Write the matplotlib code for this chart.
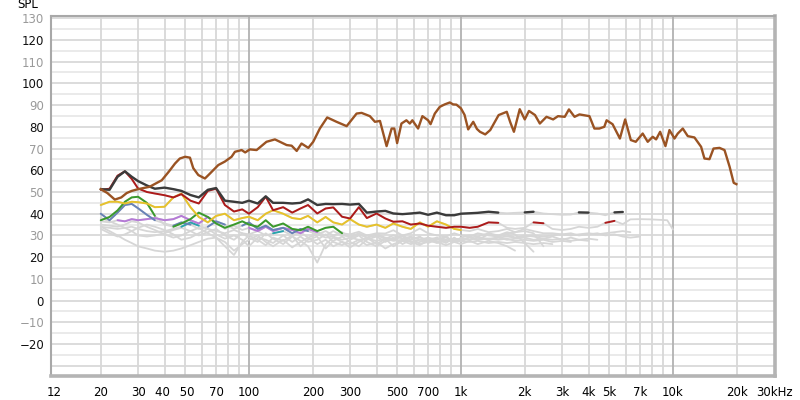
import numpy as np
import matplotlib
matplotlib.use("Agg")
import matplotlib.pyplot as plt

# ------------------------------------------------------------------
# data (REW style distortion plot)
# ------------------------------------------------------------------

# fundamental (brown) trace: frequency (Hz) / SPL (dB)
fund_freq = [20, 21.5, 23.3, 25, 26.5, 28, 30, 34, 38.8, 42, 44.8, 47.2, 50, 52.7, 54.6,
             57.7, 62, 65.5, 71.7, 77, 82.8, 85.9, 92.4, 96, 101, 108.7, 121, 132.6, 140,
             150.6, 159, 168, 177, 190.6, 201, 216, 234, 259, 289, 322, 340, 372, 393, 415,
             446, 471, 485, 500, 524, 553, 574, 590, 628, 658, 700, 719, 753, 795, 838, 886,
             919, 952, 1000, 1040, 1082, 1143, 1190, 1230, 1302, 1375, 1506, 1645, 1710, 1778,
             1894, 2000, 2094, 2236, 2356, 2533, 2722, 2870, 3088, 3232, 3435, 3624, 4037,
             4260, 4495, 4745, 4866, 5191, 5621, 5951, 6330, 6678, 7200, 7605, 8030, 8330,
             8702, 9220, 9630, 10170, 10540, 11130, 11750, 12630, 13580, 14080, 14870, 15540,
             16580, 17510, 18510, 19350, 19920]
fund_db = [51.3, 49.5, 46.5, 47.5, 49.5, 50.5, 51.3, 52.4, 55.4, 59.5, 63.1, 65.4, 66.2, 65.8, 61.0,
           57.8, 56.2, 58.5, 62.4, 64.0, 66.2, 68.5, 69.3, 68.2, 69.6, 69.3, 73.1, 74.2, 73.1,
           71.6, 71.3, 68.9, 72.3, 70.3, 73.1, 79.2, 84.3, 82.3, 80.3, 86.1, 86.4, 84.9, 82.3, 82.7,
           71.1, 79.2, 79.2, 72.5, 81.5, 83.0, 81.5, 83.0, 79.2, 84.9, 83.0, 81.2, 86.1, 89.2, 90.3, 91.2,
           90.3, 90.2, 88.5, 85.5, 78.8, 82.3, 79.0, 77.7, 76.5, 78.5, 85.4, 86.9, 82.0, 77.7,
           88.1, 83.4, 87.3, 85.4, 81.5, 84.6, 83.4, 84.9, 84.6, 88.0, 84.6, 85.7, 84.9,
           79.2, 79.2, 80.0, 83.0, 81.2, 74.6, 83.4, 73.9, 73.1, 76.9, 73.1, 75.4, 74.2,
           77.7, 71.1, 78.5, 74.6, 76.9, 79.2, 75.7, 75.1, 70.8, 65.4, 65.1, 70.0,
           70.3, 69.3, 61.6, 54.2, 53.6]

# common frequency grid for the distortion traces
harm_freq = [20, 22, 24, 26, 28, 30, 33, 36, 40, 44, 48, 53, 58, 64, 70, 77, 85, 93, 100,
             110, 120, 130, 145, 160, 175, 190, 210, 230, 250, 275, 300, 330, 360, 400, 440,
             480, 530, 580, 640, 700, 770, 850, 930, 1000, 1100, 1200, 1350, 1500, 1650, 1800,
             2000, 2200, 2450, 2700, 3000, 3300, 3600, 4000, 4400, 4800, 5300, 5800, 6300,
             7000, 7800, 8600, 9400, 10000]

thd_db = [51.3, 51.0, 57.0, 59.5, 57.0, 55.0, 53.0, 51.5, 52.0, 51.3,
          50.5, 48.6, 47.5, 51.0, 51.8, 46.0, 45.5, 45.0, 46.0, 44.7,
          48.0, 45.0, 45.0, 44.7, 45.0, 46.6, 44.0, 44.5, 44.4, 44.5,
          44.2, 44.5, 40.5, 41.0, 41.3, 40.1, 39.8, 40.1, 40.5, 39.5,
          40.5, 39.3, 39.3, 40.0, 40.2, 40.4, 40.9, 40.5, 40.2, 40.4,
          40.6, 40.9, 40.1, 39.8, 39.5, 39.6, 40.6, 40.5, 40.1, 39.3,
          40.6, 40.8]
h2_db = [51.0, 51.5, 57.5, 59.5, 56.0, 51.6, 50.0, 49.3, 48.5, 47.5,
         49.0, 46.0, 44.7, 50.5, 51.5, 44.0, 41.0, 42.0, 40.0, 43.0,
         47.8, 41.6, 43.0, 40.5, 42.4, 44.0, 40.1, 42.4, 42.9, 38.6,
         37.8, 43.0, 38.0, 40.1, 37.8, 36.3, 36.5, 35.0, 35.5, 34.5,
         34.0, 33.5, 34.0, 34.0, 33.5, 34.0, 36.0, 35.8, 33.5, 33.0,
         33.5, 36.0, 35.6, 33.0, 32.5, 33.0, 34.0, 33.5, 34.0, 35.8,
         36.7, 35.2, 37.4, 37.5, 37.4, 37.2, 37.0, 32.7]
h3_db = [44.0, 45.5, 45.5, 44.7, 45.5, 45.3, 44.7, 43.0, 43.2, 47.5,
         49.3, 43.0, 38.5, 36.0, 39.0, 40.0, 37.0, 38.0, 38.6, 37.0,
         40.0, 41.6, 40.0, 38.0, 37.5, 39.0, 36.0, 38.5, 36.0, 35.0,
         37.5, 35.0, 34.0, 35.0, 33.5, 35.5, 34.0, 33.0, 36.0, 34.0,
         36.5, 35.0, 33.0, 32.5, 32.0, 33.0, 31.5, 32.0, 33.0, 31.5,
         33.0, 32.0, 31.0, 31.0, 30.5, 31.0, 30.0, 30.5, 31.0, 30.0,
         30.5, 29.5, 29.0, 29.5]
h4_db = [37.0, 38.5, 41.5, 45.5, 47.5, 47.8, 45.0, 39.0, 35.0, 34.0,
         35.5, 37.5, 40.5, 38.5, 35.5, 33.5, 35.0, 36.5, 35.0, 34.0,
         37.0, 34.0, 35.5, 33.0, 32.4, 34.0, 32.0, 33.5, 34.0, 31.0,
         30.5, 31.7, 30.0, 31.0, 30.9, 32.4, 30.0, 31.0, 33.2, 31.0,
         30.0, 29.5, 31.0, 30.0, 29.5, 31.0, 30.0, 29.5, 30.5, 29.0,
         30.0, 29.5, 28.5, 29.5, 28.0, 29.0, 28.0, 28.5, 28.0]
h5_db = [40.0, 37.0, 40.5, 44.0, 44.5, 42.5, 39.5, 37.0, 35.5, 34.5,
         36.0, 35.0, 33.0, 34.0, 36.5, 35.0, 33.0, 34.5, 36.0, 33.0,
         34.5, 32.5, 33.5, 31.0, 33.0, 32.0, 30.5, 32.0, 30.0, 31.5,
         29.0, 30.5, 29.0, 30.0, 28.5, 30.0, 28.5, 29.5, 28.0, 29.0,
         28.0, 29.0, 27.5, 28.5, 28.0, 29.0, 28.0, 29.0, 28.0, 28.5,
         29.0, 28.0, 28.5, 28.0, 28.5, 27.5, 28.0, 27.5]
h6_db = [36.5, 36.0, 37.0, 36.5, 37.5, 37.0, 37.5, 38.0, 37.0, 37.5,
         39.0, 37.0, 35.5, 38.5, 36.0, 33.0, 34.5, 32.5, 33.5, 32.0,
         34.0, 32.0, 33.5, 32.5, 31.0, 33.0, 31.5, 30.0, 32.0, 30.0,
         29.5, 31.0, 29.0, 30.5, 29.0, 28.5, 30.0, 28.0, 29.0, 28.0,
         29.0, 27.5, 28.5, 28.0, 29.0, 28.0, 28.5, 28.0, 28.5, 27.5,
         28.0, 27.5, 28.0, 27.0, 27.5, 27.0]
h7_db = [34.0, 33.5, 33.0, 33.5, 34.0, 33.0, 32.0, 31.5, 32.0, 33.0,
         34.0, 36.0, 34.5, 33.0, 32.0, 31.0, 32.5, 31.0, 30.5, 32.0,
         30.0, 31.0, 32.0, 30.0, 31.5, 29.0, 30.5, 29.0, 29.5, 28.0,
         29.0, 28.0, 28.5, 27.5, 28.5, 27.5, 28.0, 27.0, 28.0, 27.5,
         27.0, 28.0, 27.0, 27.5, 27.0, 27.5, 26.5, 27.0, 26.5, 27.0,
         26.5, 26.0, 26.5, 26.0]

# traces that stay grey all the way
noise_db = [34.0, 32.0, 30.0, 28.0, 26.5, 25.0, 24.0, 23.0, 22.5, 23.0,
            24.0, 25.5, 27.0, 28.5, 29.0, 27.0, 23.0, 26.0, 28.0, 30.0,
            27.0, 25.0, 28.0, 24.5, 27.0, 29.0, 26.0, 28.0, 25.0, 27.0,
            26.0, 28.0, 25.5, 27.0, 24.0, 26.0, 27.5, 26.0, 27.0, 28.0,
            26.5, 27.5, 28.0, 28.5, 28.0, 29.0, 28.5, 29.0, 29.5, 29.0,
            29.5, 30.0, 29.5, 30.0, 30.5, 30.0, 30.5, 31.0, 30.5, 31.0,
            31.5, 32.0, 31.5]
h8_db = [38.0, 36.5, 35.0, 33.5, 32.0, 30.0, 29.5, 30.0, 31.0, 32.5,
         33.5, 32.0, 30.0, 31.5, 33.0, 30.0, 28.0, 31.0, 29.0, 27.0,
         31.0, 28.5, 26.0, 29.5, 27.5, 25.0, 17.5, 26.0, 29.0, 27.0,
         24.5, 27.0, 29.0, 26.0, 28.5, 25.0, 27.5, 29.0, 26.0, 27.0,
         28.5, 26.5, 29.0, 27.0, 29.5, 28.0, 30.5, 29.5, 31.0, 31.5,
         32.0, 31.0, 25.0]
h9_db = [35.0, 34.5, 34.0, 35.0, 36.5, 36.0, 34.0, 32.5, 30.5, 29.0,
         30.0, 32.0, 33.5, 31.0, 29.0, 25.0, 21.0, 27.0, 30.0, 28.0,
         25.5, 29.0, 27.5, 30.0, 25.0, 28.0, 29.5, 24.0, 27.5, 29.5,
         27.0, 25.0, 28.0, 29.5, 27.0, 29.0, 26.0, 28.0, 29.5, 26.5,
         28.0, 29.5, 27.0, 29.0, 30.0, 29.5, 31.0, 30.0, 31.5, 30.5,
         26.5, 22.5]
h10_db = [33.0, 31.0, 29.5, 30.5, 32.0, 33.5, 35.0, 34.0, 32.5, 30.5,
          28.0, 29.0, 31.0, 33.0, 30.5, 28.5, 30.0, 28.0, 25.0, 29.0,
          28.0, 26.5, 30.0, 27.0, 29.5, 27.0, 28.0, 30.5, 27.0, 25.5,
          28.0, 30.0, 27.0, 25.0, 27.5, 28.0, 29.5, 27.0, 25.5, 28.0,
          27.0, 25.5, 27.0, 26.0, 27.5, 26.0, 27.5, 26.5, 25.0, 23.0]

# level a trace has to exceed (on harm_freq) before it is drawn in colour
show_level = ([36.5] * 9 + [33.5] * 10 + [31.0] * 12 + [31.5] * 13 + [33.0, 34.0]
              + [35.5] * 16 + [38.5] * 6)

x_ticks = [12, 20, 30, 40, 50, 70, 100, 200, 300, 500, 700, 1000, 2000, 3000, 4000,
           5000, 7000, 10000, 20000, 30000]
x_labels = ['12', '20', '30', '40 ', ' 50', '70', '100', '200', '300', '500', '700', '1k',
            '2k', '3k', '4k', '5k', '7k', '10k', '20k', '30kHz']
y_ticks = list(range(-20, 131, 10))

GRID_MINOR = '#d8d8d8'
GRID_DECADE = '#b2b2b2'
GREY = '#d6d6d6'

# (values, colour, extra margin over show_level)
colored = [
    (h7_db, '#2aa3ad', 0.0),
    (h6_db, '#b57ad6', 0.0),
    (h5_db, '#6882b6', 0.0),
    (h4_db, '#3a9a2c', 0.0),
    (h3_db, '#e7c22a', 0.0),
    (h2_db, '#ad1a1a', 0.0),
    (thd_db, '#3b3b3b', 5.0),
]

fig = plt.figure(figsize=(8, 4), dpi=100, facecolor='white')
ax = fig.add_axes([51 / 800, 1 - 376 / 400, 724 / 800, 360 / 400])
ax.set_xscale('log')
ax.set_xlim(11.65, 30300)
ax.set_ylim(-34.7, 131)

# grid
for d in range(-30, 131, 5):
    ax.axhline(d, color='#d2d2d2' if d % 10 == 0 else '#e4e4e4', lw=1.1, zorder=0)
for dec in (10, 100, 1000, 10000):
    for m in range(2, 10):
        f = m * dec
        if 12 < f < 30000:
            ax.axvline(f, color=GRID_MINOR, lw=1.3, zorder=0)
for f in (100, 1000, 10000):
    ax.axvline(f, color=GRID_DECADE, lw=1.3, zorder=0)

hf = np.array(harm_freq, dtype=float)
lvl = np.array(show_level, dtype=float)

# always-grey traces
for vals in (noise_db, h10_db, h9_db, h8_db):
    n = len(vals)
    ax.plot(hf[:n], vals, color=GREY, lw=1.3, zorder=2, solid_capstyle='round')

# grey base for the harmonics, then coloured where they stand out
for vals, col, margin in colored:
    n = len(vals)
    ax.plot(hf[:n], vals, color=GREY, lw=1.3, zorder=2, solid_capstyle='round')
for i, (vals, col, margin) in enumerate(colored):
    n = len(vals)
    v = np.array(vals, dtype=float)
    shown = np.where(v >= lvl[:n] + margin, v, np.nan)
    ax.plot(hf[:n], shown, color=col, lw=1.4 if margin == 0 else 1.7,
            zorder=3 + i, solid_capstyle='round')

ax.plot(fund_freq, fund_db, color='#9a5323', lw=1.7, zorder=12,
        solid_joinstyle='round')

# axes cosmetics
ax.set_xticks(x_ticks)
ax.set_xticklabels(x_labels)
ax.xaxis.set_minor_locator(matplotlib.ticker.NullLocator())
ax.set_yticks(y_ticks)
ax.set_yticklabels([str(v).replace('-', '\u2212') for v in y_ticks])
for v, lab in zip(y_ticks, ax.get_yticklabels()):
    lab.set_color('#111111' if v % 20 == 0 else '#9a9a9a')
ax.tick_params(axis='both', length=0, labelsize=8.5)
ax.tick_params(axis='x', pad=7)
ax.tick_params(axis='y', pad=5)

for side in ('left', 'top'):
    ax.spines[side].set_color('#a8a8a8')
    ax.spines[side].set_linewidth(1.5)
for side in ('right', 'bottom'):
    ax.spines[side].set_color('#b4b4b4')
    ax.spines[side].set_linewidth(2.6)

fig.text(28 / 800, 1 - 5 / 400, 'SPL', ha='center', va='center', fontsize=8.5)

fig.savefig('out.png', dpi=100, facecolor='white')
